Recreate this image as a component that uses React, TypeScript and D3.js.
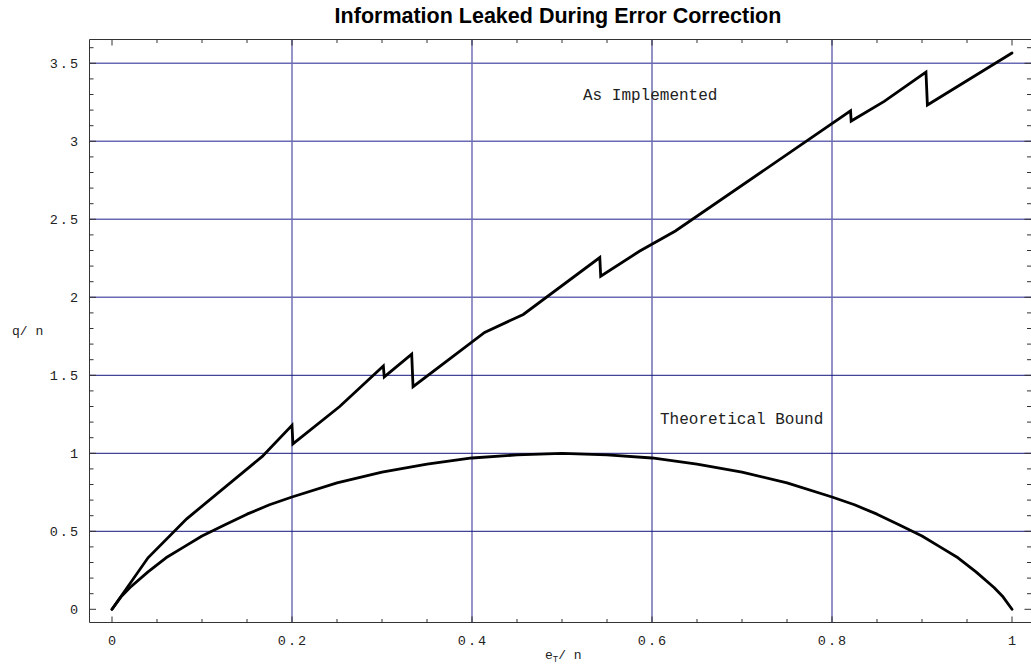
import React from "react";
import * as d3 from "d3";

// ---- data ----
const implementedX = [0, 0.04, 0.083, 0.167, 0.2, 0.201, 0.253, 0.3015, 0.3025, 0.333, 0.3345, 0.414, 0.457, 0.542, 0.543, 0.586, 0.626, 0.8206, 0.8213, 0.858, 0.9044, 0.906, 1.0];
const implementedY = [0, 0.33, 0.58, 0.98, 1.18, 1.06, 1.30, 1.56, 1.49, 1.635, 1.427, 1.775, 1.89, 2.255, 2.135, 2.295, 2.425, 3.195, 3.13, 3.256, 3.444, 3.233, 3.566];

const boundX = [0, 0.01, 0.02, 0.04, 0.06, 0.08, 0.1, 0.125, 0.15, 0.175, 0.2, 0.25, 0.3, 0.35, 0.4, 0.45, 0.5, 0.55, 0.6, 0.65, 0.7, 0.75, 0.8, 0.825, 0.85, 0.875, 0.9, 0.92, 0.94, 0.96, 0.98, 0.99, 1.0];
const boundY = [0, 0.08, 0.14, 0.24, 0.33, 0.40, 0.47, 0.54, 0.61, 0.67, 0.72, 0.81, 0.88, 0.93, 0.97, 0.99, 1.0, 0.99, 0.97, 0.93, 0.88, 0.81, 0.72, 0.67, 0.61, 0.54, 0.47, 0.40, 0.33, 0.24, 0.14, 0.08, 0];

const xTickLabels = ["0", "0.2", "0.4", "0.6", "0.8", "1"];
const xTickValues = [0, 0.2, 0.4, 0.6, 0.8, 1];
const yTickLabels = ["0", "0.5", "1", "1.5", "2", "2.5", "3", "3.5"];
const yTickValues = [0, 0.5, 1, 1.5, 2, 2.5, 3, 3.5];
const xGridValues = [0.2, 0.4, 0.6, 0.8];
const yGridValues = [0.5, 1, 1.5, 2, 2.5, 3, 3.5];

const title = "Information Leaked During Error Correction";
const labelImplemented = "As Implemented";
const labelBound = "Theoretical Bound";

const W = 1031;
const H = 669;
const FL = 89.5, FT = 39.5, FB = 622.5, FR = 1031.5;

export default function App() {
  const x = d3.scaleLinear().domain([0, 1]).range([112, 1012]);
  const y = d3.scaleLinear().domain([0, 3.5]).range([609.3, 63.3]);

  const line = d3
    .line<[number, number]>()
    .x((d) => x(d[0]))
    .y((d) => y(d[1]));

  const implPts = implementedX.map((v, i) => [v, implementedY[i]] as [number, number]);
  const boundPts = boundX.map((v, i) => [v, boundY[i]] as [number, number]);

  const xMinor = d3.range(0, 21).map((i) => i * 0.05);
  const yMinor = d3.range(0, 37).map((i) => i * 0.1);
  const isMajor = (v: number, step: number) => Math.abs(v / step - Math.round(v / step)) < 1e-6;

  const mono = "'Liberation Mono', 'DejaVu Sans Mono', monospace";
  const tickColor = "#333";
  const ls = 2;

  return (
    <svg
      width={W}
      height={H}
      style={{ position: "absolute", left: 0, top: 0, background: "#fff" }}
    >
      <rect x={0} y={0} width={W} height={H} fill="#fff" />
      {/* grid */}
      {xGridValues.map((v) => {
        const soft = v < 0.5;
        return (
          <line
            key={"gx" + v}
            x1={x(v)}
            x2={x(v)}
            y1={FT}
            y2={FB}
            stroke={soft ? "#7a7abc" : "#24248c"}
            strokeWidth={soft ? 1.6 : 1}
          />
        );
      })}
      {yGridValues.map((v) => {
        const soft = v > 1.75;
        return (
          <line
            key={"gy" + v}
            x1={FL}
            x2={FR}
            y1={y(v)}
            y2={y(v)}
            stroke={soft ? "#6a6ab4" : "#15157f"}
            strokeWidth={soft ? 1.5 : 1}
          />
        );
      })}

      {/* frame */}
      <path
        d={`M${FL},${FB} L${FL},${FT} L${FR},${FT} M${FL},${FB} L${FR},${FB}`}
        fill="none"
        stroke={tickColor}
        strokeWidth={1}
      />
      {/* x ticks */}
      {xMinor.map((v) => {
        const len = isMajor(v, 0.2) ? 6 : 3.5;
        return (
          <g key={"xt" + v}>
            <line x1={x(v)} x2={x(v)} y1={FB} y2={FB - len} stroke={tickColor} strokeWidth={1} />
            <line x1={x(v)} x2={x(v)} y1={FT} y2={FT + len} stroke={tickColor} strokeWidth={1} />
          </g>
        );
      })}
      {/* y ticks */}
      {yMinor.map((v) => {
        const len = isMajor(v, 0.5) ? 6.5 : 4;
        return (
          <g key={"yt" + v}>
            <line x1={FL} x2={FL + len} y1={y(v)} y2={y(v)} stroke={tickColor} strokeWidth={1} />
            <line x1={1031} x2={1031 - len} y1={y(v)} y2={y(v)} stroke={tickColor} strokeWidth={1} />
          </g>
        );
      })}

      {/* tick labels */}
      {xTickValues.map((v, i) => (
        <text
          key={"xl" + v}
          x={x(v) + ls / 2}
          y={645}
          textAnchor="middle"
          fontFamily={mono}
          fontSize={13.5}
          letterSpacing={ls}
          fill="#222"
        >
          {xTickLabels[i]}
        </text>
      ))}
      {yTickValues.map((v, i) => (
        <text
          key={"yl" + v}
          x={78 + ls}
          y={y(v) + 5}
          textAnchor="end"
          fontFamily={mono}
          fontSize={13.5}
          letterSpacing={ls}
          fill="#222"
        >
          {yTickLabels[i]}
        </text>
      ))}

      {/* curves */}
      <path
        d={line(boundPts) || ""}
        fill="none"
        stroke="#000"
        strokeWidth={2.8}
        strokeLinejoin="round"
        strokeLinecap="round"
      />
      <path
        d={line(implPts) || ""}
        fill="none"
        stroke="#000"
        strokeWidth={2.8}
        strokeLinejoin="miter"
        strokeMiterlimit={3}
        strokeLinecap="round"
      />

      {/* in-plot labels */}
      <text x={583} y={100} fontFamily={mono} fontSize={16} fill="#222">
        {labelImplemented}
      </text>
      <text x={660} y={424} fontFamily={mono} fontSize={16} fill="#222">
        {labelBound}
      </text>

      {/* axis labels */}
      <text x={12} y={335} fontFamily={mono} fontSize={13} fill="#222">
        q/ n
      </text>
      <text x={545} y={659} fontFamily={mono} fontSize={13} fill="#222">
        <tspan>e</tspan>
        <tspan fontSize={9} dy={3}>T</tspan>
        <tspan dy={-3}>/ n</tspan>
      </text>

      {/* title */}
      <text
        x={558}
        y={22.7}
        textAnchor="middle"
        fontFamily="'Liberation Sans', Arial, Helvetica, sans-serif"
        fontWeight="bold"
        fontSize={21.5}
        fill="#000"
      >
        {title}
      </text>
    </svg>
  );
}
